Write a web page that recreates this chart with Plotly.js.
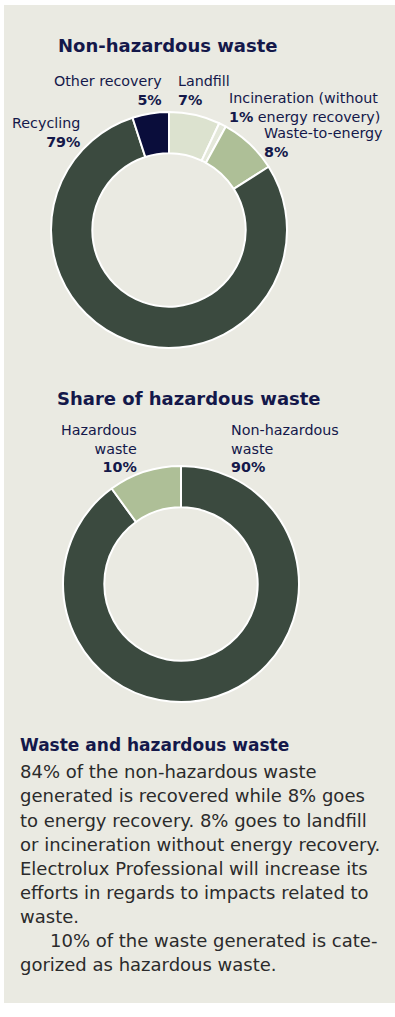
<!DOCTYPE html>
<html><head><meta charset="utf-8">
<script src="https://cdn.plot.ly/plotly-3.0.1.min.js"></script>
<style>html,body{margin:0;padding:0;background:#ffffff;}#chart{position:absolute;left:4px;top:5px;width:391px;height:998px;}</style>
</head><body><div id="chart"></div>
<script>
// ---- data ----
const wasteCategories = ["Landfill", "Incineration (without energy recovery)", "Waste-to-energy", "Recycling", "Other recovery"];
const wasteValues = [7, 1, 8, 79, 5];
const wasteColors = ["#dce2cf", "#e4e8da", "#aebf97", "#3b4a3f", "#0a0d3b"];

const hazCategories = ["Non-hazardous waste", "Hazardous waste"];
const hazValues = [90, 10];
const hazColors = ["#3b4a3f", "#aebf97"];

const title1 = "Non-hazardous waste";
const title2 = "Share of hazardous waste";
const textHeading = "Waste and hazardous waste";
const textLines = [
  "84% of the non-hazardous waste",
  "generated is recovered while 8% goes",
  "to energy recovery. 8% goes to landfill",
  "or incineration without energy recovery.",
  "Electrolux Professional will increase its",
  "efforts in regards to impacts related to",
  "waste.",
  "10% of the waste generated is cate-",
  "gorized as hazardous waste."
];

// ---- layout helpers (page px -> paper) ----
const W = 391, H = 998, OX = 4, OY = 5;
const px = x => (x - OX) / W;
const py = y => 1 - (y - OY) / H;
const FONT = "DejaVu Sans";
const NAVY = "#14184a";
const BODY = "#2b2b2b";

function dom(cx, cy, r) {
  return { x: [px(cx - r), px(cx + r)], y: [py(cy + r), py(cy - r)] };
}

const traces = [
  { type: "pie", labels: wasteCategories, values: wasteValues, sort: false, direction: "clockwise", rotation: 0,
    hole: 0.65, textinfo: "none", hoverinfo: "label+percent", showlegend: false,
    marker: { colors: wasteColors, line: { color: "#ffffff", width: 2 } }, domain: dom(169, 230, 118) },
  { type: "pie", labels: hazCategories, values: hazValues, sort: false, direction: "clockwise", rotation: 0,
    hole: 0.65, textinfo: "none", hoverinfo: "label+percent", showlegend: false,
    marker: { colors: hazColors, line: { color: "#ffffff", width: 2 } }, domain: dom(181, 584, 118) }
];

const ann = [];
function A(text, x, y, anchor, size, color, family, yanchor) {
  ann.push({ text: text, x: px(x), y: py(y), xref: "paper", yref: "paper",
    xanchor: anchor, yanchor: yanchor || "middle", showarrow: false, align: anchor === "right" ? "right" : "left",
    font: { family: family || FONT, size: size, color: color } });
}
const pct = v => "<b>" + v + "%</b>";
const LS = 14.3;

// titles
A("<b>" + title1 + "</b>", 56, 46, "left", 18, NAVY);
A("<b>" + title2 + "</b>", 55, 398, "left", 18, NAVY);

// chart 1 labels (top of first line given, yanchor top)
A(wasteCategories[4] + "<br>" + pct(wasteValues[4]), 164, 71, "right", LS, NAVY, null, "top");
A(wasteCategories[0] + "<br>" + pct(wasteValues[0]), 176, 71, "left", LS, NAVY, null, "top");
A("Incineration (without<br>" + pct(wasteValues[1]) + " energy recovery)", 227, 88, "left", LS, NAVY, null, "top");
A(wasteCategories[2] + "<br>" + pct(wasteValues[2]), 262, 123, "left", LS, NAVY, null, "top");
A(wasteCategories[3] + "<br>" + pct(wasteValues[3]), 82, 113, "right", LS, NAVY, null, "top");

// chart 2 labels
A("Hazardous<br>waste<br>" + pct(hazValues[1]), 139, 420, "right", LS, NAVY, null, "top");
A("Non-hazardous<br>waste<br>" + pct(hazValues[0]), 229, 420, "left", LS, NAVY, null, "top");

// text block
A("<b>" + textHeading + "</b>", 18, 745, "left", 17, NAVY);
const lineY = [771, 795, 820, 844, 868, 892, 916, 940, 964];
textLines.forEach((t, i) => A(t, i === 7 ? 48 : 18, lineY[i], "left", 18, BODY));

const layout = {
  width: W, height: H, margin: { l: 0, r: 0, t: 0, b: 0 },
  paper_bgcolor: "#eaeae2", plot_bgcolor: "#eaeae2",
  showlegend: false, annotations: ann, font: { family: FONT }
};
Plotly.newPlot("chart", traces, layout, { displayModeBar: false, staticPlot: true });
</script></body></html>
